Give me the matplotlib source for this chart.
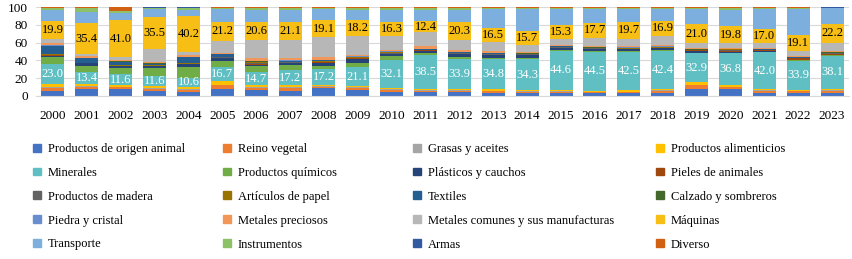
# Exportaciones por sección, participación % (100% apilado)
import numpy as np
import matplotlib.pyplot as plt
from matplotlib.patches import Patch

plt.rcParams['font.family'] = ['Liberation Serif', 'DejaVu Serif']

years = [str(y) for y in range(2000, 2024)]

names = ["Productos de origen animal", "Reino vegetal", "Grasas y aceites", "Productos alimenticios",
         "Minerales", "Productos químicos", "Plásticos y cauchos", "Pieles de animales",
         "Productos de madera", "Artículos de papel", "Textiles", "Calzado y sombreros",
         "Piedra y cristal", "Metales preciosos", "Metales comunes y sus manufacturas", "Máquinas",
         "Transporte", "Instrumentos", "Armas", "Diverso"]

colors = ["#4472C4", "#ED7D31", "#A5A5A5", "#FFC000", "#5FBFC3", "#70AD47", "#264478", "#9E480E",
          "#636363", "#997300", "#255E91", "#43682B", "#698ED0", "#F1975A", "#B7B7B7", "#F7BE16",
          "#7CAFDD", "#8CC168", "#335AA1", "#D26012"]

origen_animal = [6, 7.5, 7.5, 5, 4, 7.5, 7, 6, 8.5, 7, 5, 4, 4, 3.5, 3, 3, 3, 3, 3, 7.5, 7.5, 4, 3.5, 4]
reino_vegetal = [3.5, 2.5, 2, 3, 3, 4.5, 2.5, 3, 2, 2, 2, 1.5, 2, 2, 2, 2, 1.5, 1.5, 3, 4.5, 2.5, 2, 2, 2]
grasas = [1, 1, 1, 1, 1, 1, 1, 1, 1, 1, 1, 1, 0.5, 0.5, 0.5, 0.5, 0.5, 0.5, 0.5, 0.5, 0.5, 0.5, 0.5, 0.5]
alimenticios = [3, 2, 2, 2, 2, 3.5, 2, 2, 1.5, 1.5, 1, 1, 1.5, 1.5, 1.5, 1.5, 1, 1.5, 2, 3, 2, 1.5, 1.5, 1.5]
minerales = [23.0, 13.4, 11.6, 11.6, 10.6, 16.7, 14.7, 17.2, 17.2, 21.1, 32.1, 38.5,
             33.9, 34.8, 34.3, 44.6, 44.5, 42.5, 42.4, 32.9, 36.8, 42.0, 33.9, 38.1]
quimicos = [7, 7, 7, 8, 12, 6, 7, 6, 4, 5, 4, 2.5, 2, 1.5, 1.5, 1, 0.5, 1, 1, 1, 0.5, 1, 0.5, 0.5]
plasticos = [2, 3, 2, 2.5, 3, 4, 1.5, 2, 3.5, 5, 3, 3, 3.5, 3, 3, 2.5, 2.5, 2.5, 2.5, 2, 1, 1, 0.5, 0.5]
pieles = [0.5] + [0.3] * 21 + [1.5, 1.5]
madera = [0.5, 0.3, 0.5, 0.3, 0.5, 0.5, 2, 1, 1, 1, 1, 0.5, 1, 1, 1, 0.5, 0.5, 0.5, 0.5, 0.5, 2, 0.5, 0.5, 0.5]
papel = [0.5] + [0.3] * 23
textiles = [9, 5, 4, 2, 7, 3, 1, 1, 1, 0.5, 0.5, 0.5, 1, 0.5, 0.5, 0.5, 0.5, 0.5, 0.5, 0.3, 0.3, 0.5, 0.3, 0.3]
calzado = [0.5] + [0.3] * 20 + [0.5, 0.3, 0.3]
piedra = [0.5] + [0.3] * 23
met_preciosos = [3, 1.5, 1.5, 1.5, 1.5, 1, 3, 3, 3.5, 2, 2, 2.5, 2, 2, 1.5, 1.5, 1, 1.5, 2, 1.5, 1, 1, 1, 1]
met_comunes = [4, 2, 3, 14, 3.8, 14, 21, 20, 22, 21, 15, 16, 11, 9.7, 8, 6.8, 9, 7.8, 10, 5.5, 5, 5, 6, 9.5]
maquinas = [19.9, 35.4, 41.0, 35.5, 40.2, 21.2, 20.6, 21.1, 19.1, 18.2, 16.3, 12.4,
            20.3, 16.5, 15.7, 15.3, 17.7, 19.7, 16.9, 21.0, 19.8, 17.0, 19.1, 22.2]
transporte = [12.5, 12.6, 7.5, 9, 6.7, 14.5, 14, 13.5, 13, 12, 14, 13, 14.3, 22, 24, 18.6, 15.6, 14.1,
              14, 17, 19, 22, 30, 17.3]
instrumentos = [2.5, 4, 2.5, 1.5, 3, 1.5, 2, 2, 1, 2, 2, 2, 2, 1, 1.5, 1, 1, 1, 1, 1.5, 1.5, 1.5, 1, 1]
armas = [0.2] * 24
diverso = [0.9, 0.9, 4.5, 0.5, 0.5, 0.6, 0.7, 0.9, 1, 1, 1.1, 1, 1, 0.6, 1, 1, 1, 1, 0.7, 1, 1.4, 1, 1, 0.5]

series = [origen_animal, reino_vegetal, grasas, alimenticios, minerales, quimicos, plasticos, pieles,
          madera, papel, textiles, calzado, piedra, met_preciosos, met_comunes, maquinas,
          transporte, instrumentos, armas, diverso]

vals = np.array(series, dtype=float)
pct = vals / vals.sum(axis=0) * 100

fig = plt.figure(figsize=(8.52, 2.59), dpi=100)
ax = fig.add_axes([36 / 852, 1 - 96 / 259, 813 / 852, 89 / 259])

x = np.arange(len(years))
bottom = np.zeros(len(years))
for i, (name, col) in enumerate(zip(names, colors)):
    bars = ax.bar(x, pct[i], 0.68, bottom=bottom, color=col, label=name, zorder=2)
    if name == "Minerales":
        ax.bar_label(bars, labels=[f"{v:.1f}" for v in series[i]], label_type='center',
                     color='white', fontsize=9)
    if name == "Máquinas":
        ax.bar_label(bars, labels=[f"{v:.1f}" for v in series[i]], label_type='center',
                     color='black', fontsize=9)
    bottom += pct[i]

ax.set_xlim(-0.5, len(years) - 0.5)
ax.set_ylim(0, 100)
ax.set_yticks(range(0, 101, 20))
ax.set_xticks(x)
ax.set_xticklabels(years)
ax.tick_params(axis='both', length=0, labelsize=9.5)
ax.tick_params(axis='x', pad=10)
ax.tick_params(axis='y', pad=6)
ax.grid(axis='y', color='#D9D9D9', linewidth=0.8, zorder=0)
for s in ['top', 'right', 'left']:
    ax.spines[s].set_visible(False)
ax.spines['bottom'].set_color('#D9D9D9')

# legend: 4 columns, row-wise order
col_x = [33 / 852, 223 / 852, 413 / 852, 656 / 852]
for c in range(4):
    handles = [Patch(color=colors[r * 4 + c]) for r in range(5)]
    labels = [names[r * 4 + c] for r in range(5)]
    fig.legend(handles, labels, loc='upper left', bbox_to_anchor=(col_x[c], 1 - 143 / 259),
               frameon=False, fontsize=9, handlelength=0.6, handleheight=0.6,
               handletextpad=0.6, labelspacing=0.95, borderpad=0, borderaxespad=0)

plt.savefig("out.png", dpi=100)
